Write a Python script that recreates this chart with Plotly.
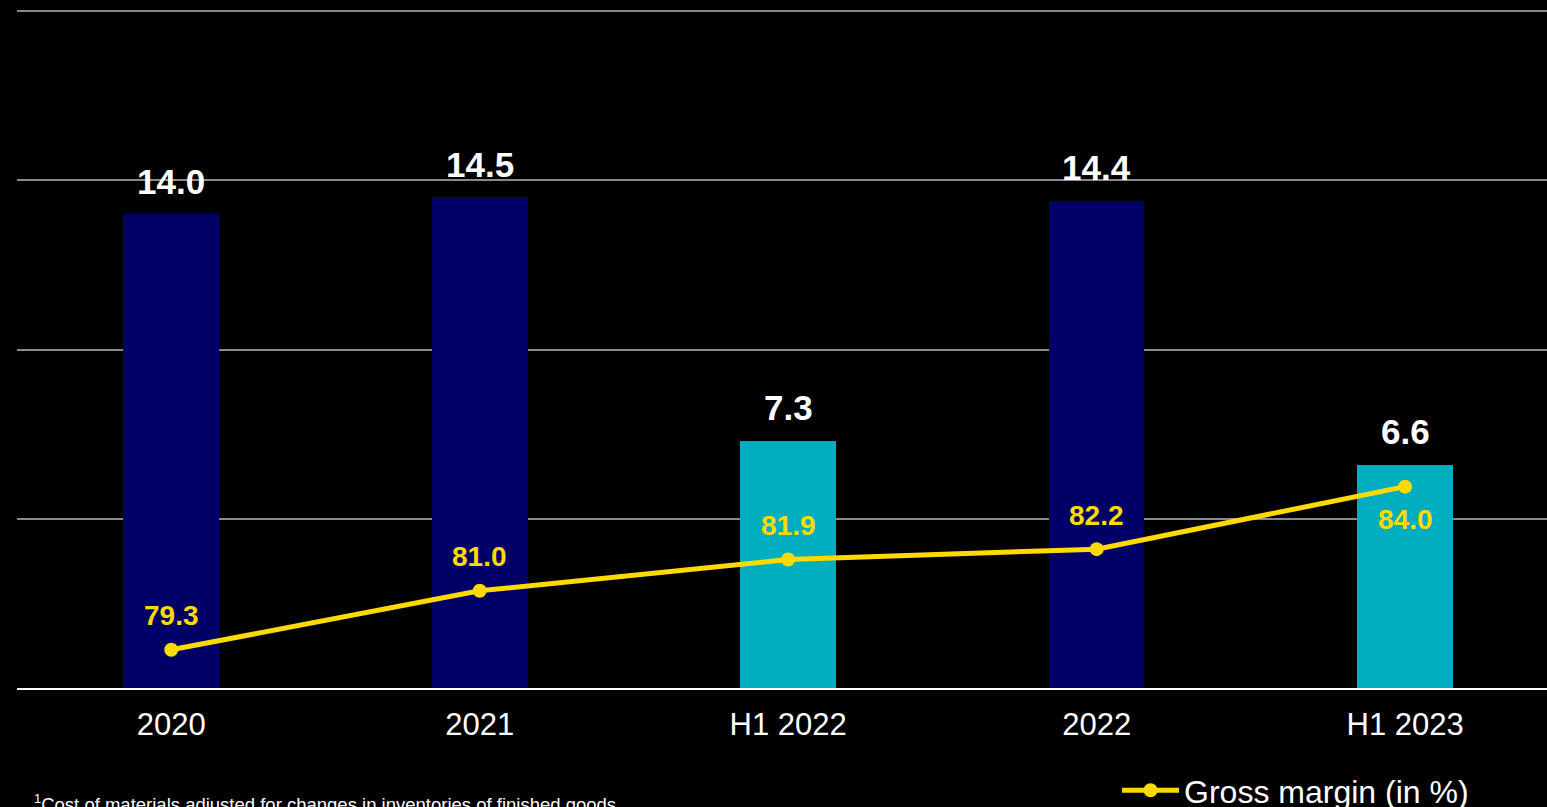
import plotly.graph_objects as go

categories = ["2020", "2021", "H1 2022", "2022", "H1 2023"]
bar_values = [14.0, 14.5, 7.3, 14.4, 6.6]
bar_colors = ["#000066", "#000066", "#00AEC0", "#000066", "#00AEC0"]
margin_values = [79.3, 81.0, 81.9, 82.2, 84.0]
margin_label_pos = ["above", "above", "above", "above", "below"]
legend_name = "Gross margin (in %)"
footnote = "<sup>1</sup>Cost of materials adjusted for changes in inventories of finished goods"

YELLOW = "#FFDA00"
FONT = "Liberation Sans, Arial, sans-serif"

fig = go.Figure()
fig.add_trace(go.Bar(
    x=categories, y=bar_values, marker_color=bar_colors, width=0.31,
    marker_line_width=0, showlegend=False, hoverinfo="skip",
))
fig.add_trace(go.Scatter(
    x=categories, y=margin_values, yaxis="y2", mode="lines+markers",
    line=dict(color=YELLOW, width=5), marker=dict(color=YELLOW, size=14),
    name=legend_name, showlegend=True,
))

annotations = []
for i, v in enumerate(bar_values):
    annotations.append(dict(
        x=i, y=v, xref="x", yref="y", text=f"<b>{v:.1f}</b>", showarrow=False,
        yanchor="middle", yshift=33, font=dict(color="white", size=35, family=FONT),
    ))
for i, (v, p) in enumerate(zip(margin_values, margin_label_pos)):
    annotations.append(dict(
        x=i, y=v, xref="x", yref="y2", text=f"<b>{v:.1f}</b>", showarrow=False,
        yanchor="middle", yshift=34 if p == "above" else -33,
        font=dict(color=YELLOW, size=28, family=FONT),
    ))
annotations.append(dict(
    x=0.01, y=-0.170, xref="paper", yref="paper", xanchor="left", yanchor="middle",
    text=footnote, showarrow=False, font=dict(color="white", size=18.5, family=FONT),
))

fig.update_layout(
    width=1547, height=807,
    paper_bgcolor="black", plot_bgcolor="black",
    margin=dict(l=17, r=0, t=10, b=119, autoexpand=False),
    font=dict(family=FONT, color="white"),
    bargap=0,
    xaxis=dict(
        type="category",
        range=[-0.5, 4.46], showgrid=False, showline=True, linecolor="white", linewidth=2,
        ticks="", tickfont=dict(size=31, color="white"), zeroline=False,
        ticklabelstandoff=8,
    ),
    yaxis=dict(
        range=[0, 20.03], tickvals=[5, 10, 15, 20], showgrid=True, gridcolor="#8a8a8a", gridwidth=2,
        showticklabels=False, zeroline=False, showline=False,
    ),
    yaxis2=dict(
        range=[78.2, 97.73], overlaying="y", side="right", showgrid=False,
        showticklabels=False, zeroline=False, showline=False,
    ),
    legend=dict(
        x=0.719, y=-0.151, xanchor="left", yanchor="middle", bgcolor="rgba(0,0,0,0)",
        font=dict(size=32, color="white"), itemwidth=57,
    ),
    annotations=annotations,
)

fig.write_html("out.html")
